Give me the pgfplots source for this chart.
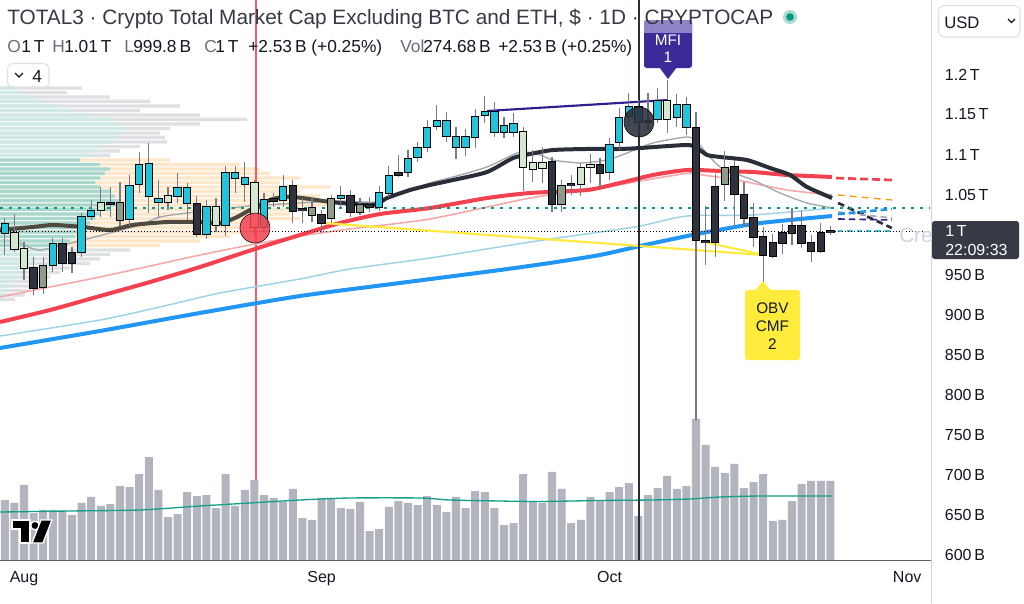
\documentclass[border=0pt]{standalone}
\usepackage{fontspec}
\setmainfont{Liberation Sans}
\usepackage{pgfplots}
\usepackage{pgfplotstable}
\pgfplotsset{compat=1.18}

\definecolor{hdr}{HTML}{363A45}
\definecolor{txt}{HTML}{131722}
\definecolor{lbl}{HTML}{6A6D78}
\definecolor{ccyan}{HTML}{22C4DB}
\definecolor{cdark}{HTML}{2E323D}
\definecolor{cpale}{HTML}{D5E8CF}
\definecolor{cgg}{HTML}{8E9C8A}
\definecolor{wick}{HTML}{787B86}
\definecolor{volgray}{HTML}{B2B5BE}
\definecolor{volma}{HTML}{15A08A}
\definecolor{mablack}{HTML}{2A2E39}
\definecolor{mabrown}{HTML}{4F4A40}
\definecolor{magray}{HTML}{A3A6AF}
\definecolor{mared}{HTML}{F44150}
\definecolor{redmark}{HTML}{F23645}
\definecolor{mapink}{HTML}{F7A8A8}
\definecolor{mablue}{HTML}{2196F3}
\definecolor{malblue}{HTML}{9ED3E6}
\definecolor{myellow}{HTML}{FFEB3B}
\definecolor{mnavy}{HTML}{2E1F8F}
\definecolor{dotgreen}{HTML}{089981}
\definecolor{vgray}{HTML}{DFE0E4}
\definecolor{vtl}{HTML}{CFE9E4}
\definecolor{vteal}{HTML}{A6D8CF}
\definecolor{vorange}{HTML}{FDE7C8}
\definecolor{morange}{HTML}{FF9800}
\definecolor{mcyan}{HTML}{26C6DA}
\definecolor{mfi}{HTML}{3B2B98}
\definecolor{mfilight}{HTML}{8E84C8}
\definecolor{sep}{HTML}{D1D4DC}
\definecolor{axisline}{HTML}{5D606B}

% d = days since 1 Aug; top/bot = body; high/low = wick; k: 0 cyan, 1 dark, 2 pale, 3 grey-green
\pgfplotstableread{
d top bot high low k
-2 1013.1 1001.9 1020.6 974.4 0
-1 1001.9 981.9 1025.6 978.1 2
0 981.9 958.1 990.6 943.1 2
1 958.1 933.1 971.9 924.4 1
2 960.6 934.4 971.9 925.6 3
3 988.1 961.9 995.6 953.1 0
4 988.1 964.4 995.6 953.1 1
5 976.9 964.4 984.4 951.9 1
6 1021.9 978.1 1026.9 971.9 0
7 1029.4 1023.1 1043.1 1018.1 0
8 1039.4 1030.6 1059.4 1021.9 2
9 1039.9 1038.4 1059.4 1021.9 1
10 1039.4 1018.1 1065.6 1010.6 3
11 1060.6 1019.4 1074.4 1010.6 0
12 1086.9 1063.1 1103.1 1051.9 0
13 1088.1 1048.1 1114.4 1026.9 0
14 1044.4 1040.6 1068.1 1020.6 0
15 1048.1 1040.6 1059.4 1030.6 2
16 1058.1 1048.1 1076.9 1039.4 0
17 1058.1 1039.4 1064.4 1018.1 0
18 1038.1 1000.6 1048.1 996.9 1
19 1034.4 1000.6 1043.1 994.4 0
20 1034.4 1011.9 1045.6 1003.1 2
21 1076.9 1011.9 1085.6 998.1 0
22 1076.9 1070.6 1085.6 1051.9 0
23 1070.6 1063.1 1090.6 1040.6 0
24 1064.4 1009.4 1068.1 999.4 2
25 1043.1 1009.4 1051.9 1003.1 0
26 1044.4 1041.9 1051.9 1034.4 1
27 1059.4 1043.1 1074.4 1034.4 0
28 1060.6 1029.4 1068.1 1014.4 1
29 1031.9 1030.4 1045.6 1014.4 1
30 1033.1 1024.4 1045.6 1015.6 3
31 1024.4 1014.4 1030.6 1001.9 1
32 1044.4 1020.6 1049.4 1014.4 3
33 1048.1 1045.6 1060.6 1034.4 0
34 1048.1 1028.1 1055.6 1021.9 1
35 1036.9 1028.1 1045.6 1024.4 3
36 1036.9 1034.4 1046.9 1028.1 1
37 1051.9 1034.4 1060.6 1029.4 0
38 1073.1 1051.9 1085.6 1046.9 0
39 1076.9 1074.4 1099.4 1071.9 1
40 1094.4 1078.1 1105.6 1071.9 0
41 1108.1 1096.9 1115.6 1090.6 0
42 1133.1 1109.4 1143.1 1103.1 0
43 1141.9 1135.6 1161.9 1130.6 0
44 1141.9 1123.1 1153.1 1115.6 0
45 1121.9 1109.4 1134.4 1094.4 0
46 1121.9 1109.4 1131.9 1098.1 0
47 1146.9 1121.9 1156.9 1108.1 0
48 1153.1 1149.4 1173.1 1139.4 0
49 1153.1 1128.1 1165.6 1121.9 0
50 1135.6 1128.1 1146.9 1120.6 0
51 1138.1 1128.1 1151.9 1121.9 0
52 1128.1 1084.4 1134.4 1054.4 2
53 1089.4 1081.9 1105.6 1065.6 2
54 1089.4 1083.1 1109.4 1064.4 2
55 1090.6 1038.1 1096.9 1028.1 1
56 1060.6 1038.1 1068.1 1028.1 3
57 1063.1 1061.6 1074.4 1049.4 1
58 1083.1 1063.1 1089.4 1048.1 2
59 1086.9 1084.4 1100.6 1064.4 2
60 1086.9 1076.9 1095.6 1059.4 1
61 1111.9 1078.1 1120.6 1068.1 0
62 1145.6 1115.6 1158.1 1105.6 0
63 1159.4 1148.1 1176.9 1134.4 0
64 1159.4 1140.6 1168.1 1135.6 0
65 1141.9 1140.4 1176.9 1130.6 1
66 1166.9 1144.4 1183.1 1139.4 0
67 1166.9 1144.4 1193.1 1126.9 2
68 1161.9 1146.9 1175.6 1134.4 0
69 1161.9 1134.4 1171.9 1124.4 0
70 1133.1 993.1 1153.1 768.1 1
71 992.0 990.5 1035.6 961.9 1
72 1059.4 990.6 1075.6 971.9 1
73 1083.1 1063.1 1104.4 1041.9 3
74 1084.4 1050.6 1093.1 1009.4 1
75 1049.4 1020.6 1065.6 1009.4 1
76 1020.6 996.9 1039.4 984.4 1
77 996.9 974.4 1009.4 940.6 1
78 989.4 973.1 1000.6 970.6 1
79 1001.9 989.4 1013.1 975.6 1
80 1010.6 1001.9 1033.1 986.9 1
81 1010.6 989.4 1029.4 983.1 1
82 989.4 979.4 999.4 965.6 1
83 1001.9 979.4 1014.4 976.9 1
84 1004.4 1003.1 1010.0 999.8 1
}\candles

% volume, billions
\pgfplotstableread{
d v
-2 208.6
-1 198.2
0 260.8
1 163.4
2 173.9
3 173.9
4 170.4
5 156.5
6 198.2
7 219.1
8 187.8
9 194.7
10 257.3
11 253.8
12 299.0
13 358.1
14 243.4
15 149.5
16 159.9
17 236.4
18 222.5
19 226.0
20 180.8
21 299.0
22 187.8
23 243.4
24 278.2
25 226.0
26 215.6
27 201.7
28 246.9
29 146.0
30 139.1
31 215.6
32 212.1
33 180.8
34 177.3
35 201.7
36 100.8
37 107.8
38 184.3
39 205.1
40 198.2
41 191.2
42 222.5
43 191.2
44 166.9
45 219.1
46 180.8
47 239.9
48 236.4
49 180.8
50 121.7
51 128.6
52 299.0
53 201.7
54 198.2
55 306.0
56 246.9
57 128.6
58 139.1
59 219.1
60 208.6
61 236.4
62 253.8
63 267.7
64 153.0
65 226.0
66 250.3
67 292.1
68 246.9
69 257.3
70 490.3
71 399.9
72 323.4
73 302.5
74 333.8
75 250.3
76 271.2
77 299.0
78 135.6
79 139.1
80 205.1
81 264.3
82 274.7
83 274.7
84 274.7
}\volume

\pgfplotsset{
  chartgeom/.style={at={(0,0)}, anchor=north west, width=697.5pt, height=420pt, scale only axis},
  ebar/.style 2 args={draw=none, mark=none, forget plot,
    error bars/.cd, y dir=both, y explicit, error mark=none,
    error bar style={line width=#1, draw=#2, solid}},
}

\begin{document}
\begin{tikzpicture}
\useasboundingbox (0,0) rectangle (768pt,-452.25pt);
\fill[white] (0,0) rectangle (768pt,-452.25pt);

% ---------- volume profile (x in pixels of the pane) ----------
\begin{axis}[chartgeom, hide axis, xmin=0, xmax=930, ymin=593.125, ymax=1293.125]
\addplot[xbar, bar shift=0pt, bar width=4.3, fill=vgray, draw=none] coordinates {
(82,1183.1) (67,1177.5) (110,1171.9) (150,1166.3) (180,1160.6) (140,1155.0) (200,1149.4) (247,1143.8)
(200,1138.1) (170,1132.5) (160,1126.9) (165,1121.3) (167,1115.6) (140,1110.0) (120,1104.4) (110,1098.8)
(130,980.6) (110,975.0) (100,969.4) (90,963.8) (70,958.1) (60,952.5) (50,946.9) (40,941.3) (35,935.6) (30,930.0) (25,924.4) (15,918.8)};
\addplot[xbar, bar shift=0pt, bar width=4.3, fill=vorange, draw=none] coordinates {
(170,1093.1) (240,1087.5) (260,1081.9) (270,1076.3) (300,1070.6) (280,1065.0) (330,1059.4) (300,1053.8)
(320,1048.1) (310,1042.5) (330,1036.9) (300,1031.3) (290,1025.6) (300,1020.0) (270,1014.4) (260,1008.8)
(250,1003.1) (230,997.5) (200,991.9) (160,986.3)};
\addplot[xbar, bar shift=0pt, bar width=4.3, fill=vtl, draw=none] coordinates {
(15,1183.1) (20,1177.5) (30,1171.9) (45,1166.3) (60,1160.6) (70,1155.0) (90,1149.4) (110,1143.8)
(120,1138.1) (125,1132.5) (120,1126.9) (115,1121.3) (110,1115.6) (100,1110.0) (95,1104.4) (90,1098.8)
(50,980.6) (40,975.0) (35,969.4) (30,963.8) (25,958.1) (20,952.5) (15,946.9) (12,941.3) (10,935.6) (8,930.0) (5,924.4) (3,918.8)};
\addplot[xbar, bar shift=0pt, bar width=4.3, fill=vteal, draw=none] coordinates {
(80,1093.1) (100,1087.5) (110,1081.9) (105,1076.3) (100,1070.6) (95,1065.0) (100,1059.4) (110,1053.8)
(115,1048.1) (120,1042.5) (125,1036.9) (110,1031.3) (100,1025.6) (95,1020.0) (90,1014.4) (85,1008.8)
(80,1003.1) (75,997.5) (70,991.9) (60,986.3)};
% vertical event line (Aug 25)
\addplot[draw=redmark, draw opacity=0.8, line width=1.5pt, mark=none] coordinates {(255.5,593.125) (255.5,1293.125)};
\end{axis}

% ---------- volume pane ----------
\begin{axis}[chartgeom, hide axis, xmin=-2.5, xmax=94.375, ymin=0, ymax=1947]
\addplot[ybar, bar shift=0pt, bar width=0.84, fill=volgray, draw=none] table[x=d, y=v]{\volume};
\addplot[color=volma, line width=1pt, smooth, tension=0.4] coordinates {
(-2.5,166.9) (4.79,170.4) (12.08,173.9) (18.33,187.8) (23.54,198.2) (28.75,208.6) (33.96,215.6)
(41.25,215.6) (44.38,208.6) (49.58,205.1) (53.75,203.4) (60,206.9) (65.21,208.6) (69.38,212.1)
(72.5,219.1) (76.67,222.5) (84.17,222.5)};
\end{axis}

% ---------- price pane ----------
\begin{axis}[chartgeom, xmin=-2.5, xmax=94.375, ymin=593.125, ymax=1293.125,
  axis line style={draw=none}, major tick length=0pt,
  xtick={0,31,61,92}, xticklabels={Aug,Sep,Oct,Nov},
  xticklabel style={font=\fontsize{12}{14}\selectfont, text=txt, yshift=-5pt},
  ytick={600,650,700,750,800,850,900,950,1050,1100,1150,1200},
  yticklabels={600\,B,650\,B,700\,B,750\,B,800\,B,850\,B,900\,B,950\,B,1.05\,T,1.1\,T,1.15\,T,1.2\,T},
  yticklabel pos=right,
  yticklabel style={font=\fontsize{12}{14}\selectfont, text=txt, anchor=west, inner sep=0pt, xshift=11pt},
]
% moving averages
\addplot[color=malblue, line width=1.1pt, smooth, tension=0.4] coordinates {
(-2.5,873.1) (7.92,893.1) (14.17,909.4) (20.42,926.9) (28.75,944.4) (33.96,956.9) (42.29,970.6)
(52.71,990.6) (60.00,1003.1) (64.17,1010.6) (69.06,1023.1) (75.94,1024.4) (84.17,1033.1)};
\addplot[color=mablue, line width=3pt, smooth, tension=0.4] coordinates {
(-2.5,858.1) (7.92,879.4) (18.33,901.9) (28.75,923.1) (39.17,939.4) (49.58,955.6) (54.79,964.4)
(60.00,974.4) (64.17,985.6) (70.10,1000.6) (75.94,1013.1) (80.83,1019.4) (84.17,1023.1)};
\addplot[color=mapink, line width=1.2pt, smooth, tension=0.4] coordinates {
(-2.5,921.9) (2.71,934.4) (7.92,946.9) (13.13,960.6) (18.33,974.4) (23.54,986.9) (28.75,998.1)
(33.96,1006.9) (42.29,1019.4) (52.71,1045.6) (60.73,1059.4) (64.17,1066.9) (69.38,1076.9)
(70.73,1074.4) (74.27,1068.1) (79.48,1055.6) (84.17,1049.4)};
\addplot[color=mared, line width=3pt, smooth, tension=0.4] coordinates {
(-2.5,890.6) (2.71,905.6) (7.92,923.1) (13.13,940.6) (18.33,959.4) (24.06,981.9) (28.75,999.4)
(32.92,1014.4) (37.08,1025.6) (42.29,1033.1) (48.23,1045.6) (52.71,1051.9) (58.65,1055.6)
(62.08,1064.4) (65.52,1074.4) (69.06,1080.6) (72.50,1079.4) (75.94,1078.1) (79.48,1074.4) (84.17,1071.9)};
\addplot[color=magray, line width=1pt, smooth, tension=0.4] coordinates {
(-0.42,989.4) (1.67,980.6) (6.15,993.1) (8.96,1001.9) (12.08,1011.9) (14.17,1021.9) (16.98,1026.9)
(19.69,1030.6) (23.54,1035.6) (28.75,1039.4) (32.92,1041.9) (36.56,1040.6) (39.17,1050.6)
(42.29,1064.4) (44.69,1071.9) (48.23,1084.4) (51.67,1103.1) (53.75,1099.4) (55.10,1093.1)
(57.92,1089.4) (60.73,1093.1) (62.81,1101.9) (65.52,1114.4) (69.06,1121.9) (70.10,1115.6)
(72.50,1084.4) (75.94,1068.1) (78.75,1051.9) (81.56,1039.4) (84.27,1033.1)};
\addplot[color=mabrown, line width=3pt, smooth, tension=0.4] coordinates {
(-2.5,1005.6) (0.94,1009.4) (3.02,1011.9) (6.15,1009.4) (8.96,1005.6) (11.35,1011.9) (14.90,1015.6)
(18.33,1015.6) (20.42,1014.4) (21.98,1020.6) (23.54,1030.6) (25.94,1044.4) (28.02,1046.9)
(31.88,1040.6)};
\addplot[color=mablack, line width=3pt, smooth, tension=0.4] coordinates {
(31.88,1040.6) (36.35,1036.9) (37.81,1045.6) (40.21,1055.6) (42.29,1061.9) (44.69,1068.1)
(48.23,1078.1) (50.94,1095.6) (52.71,1100.6) (55.10,1105.6) (58.65,1106.9) (62.08,1106.9)
(64.17,1108.1) (69.06,1111.9) (70.10,1108.1) (71.15,1099.4) (72.50,1096.9) (75.31,1093.1)
(77.71,1083.1) (79.79,1074.4) (81.56,1059.4) (84.17,1045.6)};
% projections
\addplot[color=mared, line width=2pt, dash pattern=on 6pt off 3pt] coordinates {(84.6,1070.6) (90.4,1068.1)};
\addplot[color=morange, line width=1pt, dash pattern=on 5pt off 4pt] coordinates {(84.8,1049.4) (90.4,1043.1)};
\addplot[color=mablack, line width=2pt, dash pattern=on 5pt off 3pt] coordinates {(84.8,1039.4) (90.4,1008.1)};
\addplot[color=magray, line width=1.2pt, dash pattern=on 5pt off 3pt] coordinates {(84.8,1028.1) (90.4,1020.6)};
\addplot[color=mablue, line width=2pt, dash pattern=on 5pt off 3pt] coordinates {(84.8,1025.6) (90.4,1031.9)};
\addplot[color=mnavy, line width=1.2pt, dash pattern=on 5pt off 3pt] coordinates {(84.8,1019.4) (90.4,1018.1)};
\addplot[color=mcyan, line width=1.5pt, dash pattern=on 4pt off 3pt] coordinates {(84.8,1004.4) (90.4,1004.4)};
% horizontal levels
\addplot[color=dotgreen, line width=2.2pt, dash pattern=on 2.2pt off 4.5pt] coordinates {(-2.5,1033.1) (94.375,1033.1)};
\addplot[color=black, line width=0.7pt, dash pattern=on 0.8pt off 1.6pt] coordinates {(-2.5,1004.4) (94.375,1004.4)};
% trend lines
\addplot[color=myellow, line width=1.6pt] coordinates {(31.15,1014.4) (76.98,974.4)};
\addplot[color=myellow, line width=1.6pt] coordinates {(70.94,990.6) (76.98,974.4)};
\addplot[color=mnavy, line width=1.6pt] coordinates {(48.23,1154.4) (67.08,1168.1)};
% event markers
\addplot[only marks, mark=*, mark size=11.25pt, mark options={fill=mared, draw=none, fill opacity=0.85}] coordinates {(24.06,1008.1)};
\addplot[only marks, mark=*, mark size=11.25pt, mark options={fill=mablack, draw=none, fill opacity=0.88}] coordinates {(64.06,1140.6)};
\addplot[color=mablack, line width=0.8pt] coordinates {(64.06,593.125) (64.06,1293.125)};
% candles: wicks, borders, bodies
\addplot[ebar={0.8pt}{wick}]
  table[x=d, y expr={(\thisrow{high}+\thisrow{low})/2}, y error expr={(\thisrow{high}-\thisrow{low})/2}]{\candles};
\addplot[ebar={6.2pt}{black}]
  table[x=d, y expr={(\thisrow{top}+\thisrow{bot})/2}, y error expr={(\thisrow{top}-\thisrow{bot})/2+0.9}]{\candles};
\addplot[restrict expr to domain={\thisrow{k}}{0:0}, ebar={4.7pt}{ccyan}]
  table[x=d, y expr={(\thisrow{top}+\thisrow{bot})/2}, y error expr={max((\thisrow{top}-\thisrow{bot})/2-0.35,0.15)}]{\candles};
\addplot[restrict expr to domain={\thisrow{k}}{1:1}, ebar={4.7pt}{cdark}]
  table[x=d, y expr={(\thisrow{top}+\thisrow{bot})/2}, y error expr={max((\thisrow{top}-\thisrow{bot})/2-0.35,0.15)}]{\candles};
\addplot[restrict expr to domain={\thisrow{k}}{2:2}, ebar={4.7pt}{cpale}]
  table[x=d, y expr={(\thisrow{top}+\thisrow{bot})/2}, y error expr={max((\thisrow{top}-\thisrow{bot})/2-0.35,0.15)}]{\candles};
\addplot[restrict expr to domain={\thisrow{k}}{3:3}, ebar={4.7pt}{cgg}]
  table[x=d, y expr={(\thisrow{top}+\thisrow{bot})/2}, y error expr={max((\thisrow{top}-\thisrow{bot})/2-0.35,0.15)}]{\candles};
\end{axis}

% ---------- chrome (pixel coordinates, origin top-left) ----------
\begin{scope}[x=0.75pt, y=-0.75pt]
\draw[color=axisline, line width=1pt] (0,560.5) -- (931,560.5);
\draw[color=sep, line width=0.8pt] (931.5,0) -- (931.5,603);
% "Cre" watermark (cut by the price scale)
\node[anchor=base west, inner sep=0, font=\fontsize{15.5}{17}\selectfont, text=sep] at (899,242) {Cre};
% last price label
\fill[color=hdr, rounded corners=2pt] (932,221) rectangle (1019,259);
\node[anchor=base west, inner sep=0, font=\fontsize{12}{13}\selectfont, text=white] at (945,236) {1\,T};
\node[anchor=base west, inner sep=0, font=\fontsize{12}{13}\selectfont, text=white] at (945,255) {22:09:33};
% currency box
\draw[color=sep!70, line width=0.8pt, rounded corners=4pt] (938.5,5.5) rectangle (1020,37);
\node[anchor=base west, inner sep=0, font=\fontsize{12.5}{14}\selectfont, text=txt] at (944,28) {USD};
\draw[color=txt, line width=0.9pt] (1008,19) -- (1011.5,22.5) -- (1015,19);
% MFI label
\fill[color=mfi, rounded corners=2pt] (644,20) rectangle (692,68);
\fill[color=mfilight, rounded corners=2pt] (644,20) rectangle (692,35);
\fill[color=mfi] (644,33) rectangle (692,36);
\fill[color=mfi] (659,67) -- (677,67) -- (668,79) -- cycle;
\node[font=\fontsize{11.5}{13}\selectfont, text=white, inner sep=0] at (668,40) {MFI};
\node[font=\fontsize{11.5}{13}\selectfont, text=white, inner sep=0] at (668,57) {1};
% OBV label
\fill[color=myellow, rounded corners=2pt] (745,290) rectangle (800,360);
\fill[color=myellow] (755,291) -- (771,291) -- (763,281) -- cycle;
\node[font=\fontsize{11.5}{13}\selectfont, text=txt, inner sep=0] at (772.5,308) {OBV};
\node[font=\fontsize{11.5}{13}\selectfont, text=txt, inner sep=0] at (772.5,326) {CMF};
\node[font=\fontsize{11.5}{13}\selectfont, text=txt, inner sep=0] at (772.5,344) {2};
% header
\node[anchor=base west, inner sep=0, font=\fontsize{15.6}{17}\selectfont, text=hdr] at (7,24)
  {TOTAL3 · Crypto Total Market Cap Excluding BTC and ETH, \$ · 1D · CRYPTOCAP};
\fill[color=dotgreen!35] (790,17) circle (7);
\fill[color=dotgreen] (790,17) circle (3.8);
\begin{scope}[every node/.style={anchor=base west, inner sep=0, font=\fontsize{13}{15}\selectfont, text=txt}]
\node[text=lbl] at (7,52) {O};
\node at (21,52) {1\,T};
\node[text=lbl] at (52,52) {H};
\node at (64,52) {1.01\,T};
\node[text=lbl] at (124,52) {L};
\node at (133,52) {999.8\,B};
\node[text=lbl] at (204,52) {C};
\node at (215,52) {1\,T};
\node at (248,52) {+2.53\,B (+0.25\%)};
\node[text=lbl] at (400,52) {Vol};
\node at (423,52) {274.68\,B};
\node at (498,52) {+2.53\,B (+0.25\%)};
\end{scope}
% collapse button
\draw[color=sep!70, line width=0.8pt, rounded corners=4pt] (7.5,63.5) rectangle (49,88);
\draw[color=txt, line width=0.9pt] (15,73) -- (19,77) -- (23,73);
\node[anchor=base west, inner sep=0, font=\fontsize{13}{15}\selectfont, text=txt] at (32,82) {4};
% logo
\filldraw[fill=black, draw=white, line width=1pt] (12,520) -- (30,520) -- (30,543) -- (20,543) -- (20,529) -- (12,529) -- cycle;
\filldraw[fill=black, draw=white, line width=1pt] (35,525.5) circle (4.3);
\filldraw[fill=black, draw=white, line width=1pt] (41,520) -- (52,520) -- (43,543) -- (32,543) -- cycle;
\end{scope}
\end{tikzpicture}
\end{document}
